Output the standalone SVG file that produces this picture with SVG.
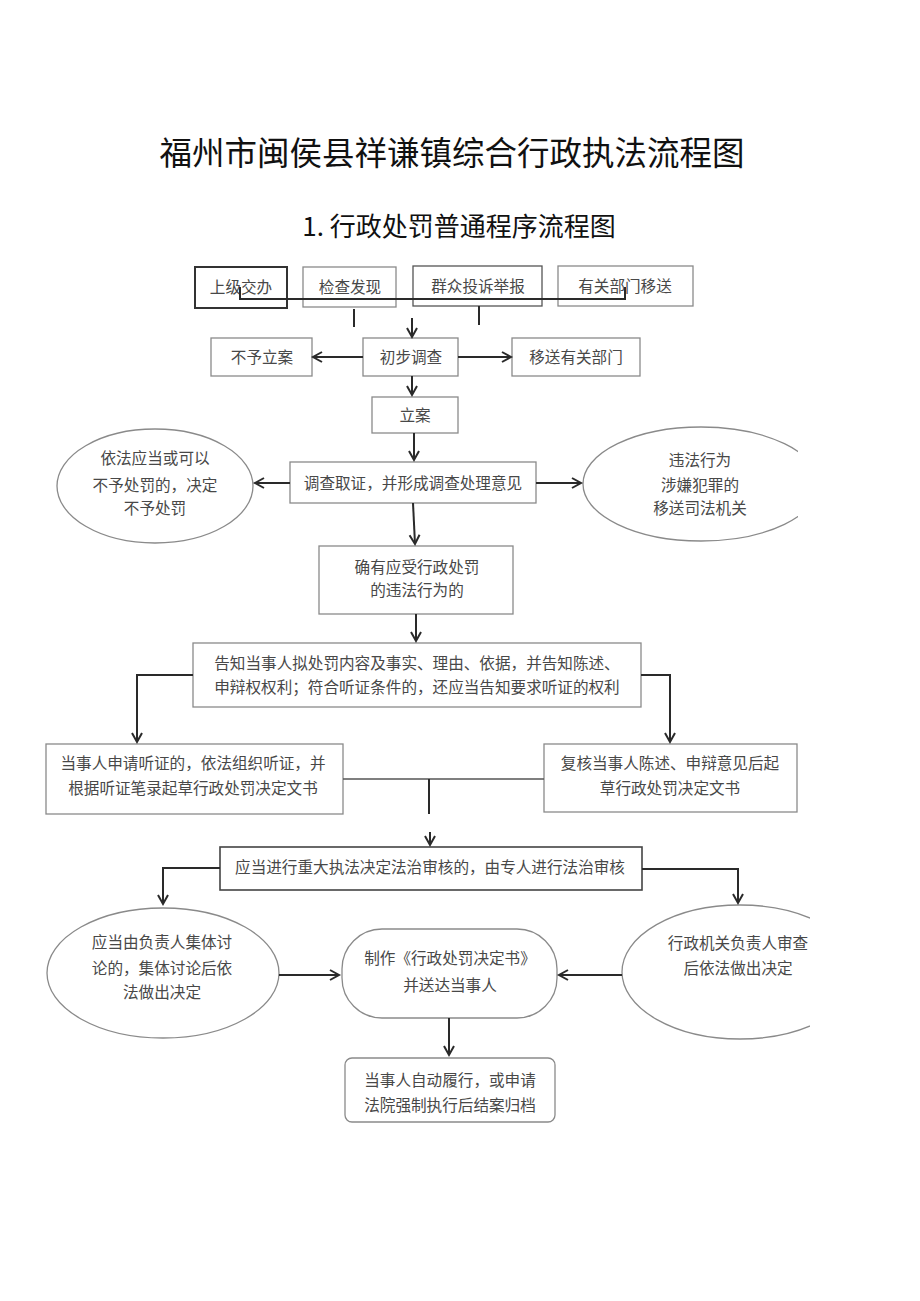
<svg xmlns="http://www.w3.org/2000/svg" width="920" height="1301" viewBox="0 0 920 1301">
<style>
.t{font-family:"Noto Sans CJK SC","Noto Sans",sans-serif;fill:#484848;font-size:15.6px;text-anchor:middle}
.h{font-family:"Noto Sans CJK SC","Liberation Sans",sans-serif;fill:#111;text-anchor:middle}
.b{fill:#fff;stroke:#8a8a8a;stroke-width:1.3}
.c{fill:none;stroke:#2a2a2a;stroke-width:2}
.a{marker-end:url(#ah)}
</style>
<defs>
<marker id="ah" markerUnits="userSpaceOnUse" markerWidth="14" markerHeight="14" refX="10" refY="6" orient="auto">
<path d="M1,1 L10,6 L1,11" fill="none" stroke="#2a2a2a" stroke-width="2"/>
</marker>
<clipPath id="clipR1"><rect x="0" y="0" width="798" height="1301"/></clipPath>
<clipPath id="clipR2"><rect x="0" y="0" width="810" height="1301"/></clipPath>
</defs>
<rect width="920" height="1301" fill="#fff"/>
<text class="h" x="452" y="165" font-size="32.5">福州市闽侯县祥谦镇综合行政执法流程图</text>
<text class="h" x="459" y="236" font-size="26">1. 行政处罚普通程序流程图</text>

<g id="n1"><rect class="b" x="195" y="267" width="92" height="41" style="stroke:#333;stroke-width:2"/><text class="t" x="241" y="293">上级交办</text></g>
<g id="n2"><rect class="b" x="303" y="267" width="93" height="40"/><text class="t" x="350" y="293">检查发现</text></g>
<g id="n3"><rect class="b" x="413" y="266" width="129" height="40" style="stroke:#555"/><text class="t" x="478" y="292">群众投诉举报</text></g>
<g id="n4"><rect class="b" x="558" y="266" width="135" height="40"/><text class="t" x="625" y="292">有关部门移送</text></g>
<g id="n5"><rect class="b" x="211" y="338" width="101" height="38"/><text class="t" x="262" y="363">不予立案</text></g>
<g id="n6"><rect class="b" x="363" y="338" width="95" height="38"/><text class="t" x="411" y="363">初步调查</text></g>
<g id="n7"><rect class="b" x="512" y="338" width="128" height="38"/><text class="t" x="576" y="363">移送有关部门</text></g>
<g id="n8"><rect class="b" x="372" y="397" width="86" height="36"/><text class="t" x="415" y="421">立案</text></g>
<g id="n9"><ellipse class="b" cx="155" cy="486" rx="98" ry="57"/><text class="t" x="155" y="464">依法应当或可以</text><text class="t" x="155" y="491">不予处罚的，决定</text><text class="t" x="155" y="514">不予处罚</text></g>
<g id="n10"><rect class="b" x="290" y="462" width="246" height="41"/><text class="t" x="413" y="489">调查取证，并形成调查处理意见</text></g>
<g id="n11" clip-path="url(#clipR1)"><ellipse class="b" cx="701" cy="484" rx="118" ry="57"/><text class="t" x="700" y="466">违法行为</text><text class="t" x="700" y="491">涉嫌犯罪的</text><text class="t" x="700" y="514">移送司法机关</text></g>
<g id="n12"><rect class="b" x="319" y="546" width="194" height="68"/><text class="t" x="417" y="573">确有应受行政处罚</text><text class="t" x="417" y="596">的违法行为的</text></g>
<g id="n13"><rect class="b" x="193" y="643" width="448" height="64"/><text class="t" x="417" y="669">告知当事人拟处罚内容及事实、理由、依据，并告知陈述、</text><text class="t" x="417" y="693">申辩权权利；符合听证条件的，还应当告知要求听证的权利</text></g>
<g id="n14"><rect class="b" x="46" y="744" width="297" height="70"/><text class="t" x="193" y="769">当事人申请听证的，依法组织听证，并</text><text class="t" x="193" y="794">根据听证笔录起草行政处罚决定文书</text></g>
<g id="n15"><rect class="b" x="544" y="744" width="253" height="68"/><text class="t" x="670" y="769">复核当事人陈述、申辩意见后起</text><text class="t" x="670" y="794">草行政处罚决定文书</text></g>
<g id="n16"><rect class="b" x="220" y="847" width="422" height="43" style="stroke:#444;stroke-width:1.6"/><text class="t" x="430" y="873">应当进行重大执法决定法治审核的，由专人进行法治审核</text></g>
<g id="n17"><ellipse class="b" cx="163" cy="973" rx="116" ry="65"/><text class="t" x="162" y="948">应当由负责人集体讨</text><text class="t" x="162" y="974">论的，集体讨论后依</text><text class="t" x="162" y="998">法做出决定</text></g>
<g id="n18"><rect class="b" x="342" y="929" width="215" height="89" rx="40" ry="40"/><text class="t" x="450" y="964">制作《行政处罚决定书》</text><text class="t" x="450" y="991">并送达当事人</text></g>
<g id="n19" clip-path="url(#clipR2)"><ellipse class="b" cx="740" cy="972" rx="118" ry="67"/><text class="t" x="738" y="949">行政机关负责人审查</text><text class="t" x="738" y="974">后依法做出决定</text></g>
<g id="n20"><rect class="b" x="345" y="1058" width="210" height="64" rx="7" ry="7"/><text class="t" x="450" y="1086">当事人自动履行，或申请</text><text class="t" x="450" y="1111">法院强制执行后结案归档</text></g>

<g id="connectors">
<polyline class="c" points="240,287 240,299 625,299 625,287"/>
<line class="c" x1="354" y1="309" x2="354" y2="327"/>
<line class="c" x1="479" y1="306" x2="479" y2="325"/>
<line class="c a" x1="412" y1="318" x2="412" y2="337"/>
<line class="c a" x1="363" y1="357" x2="313" y2="357"/>
<line class="c a" x1="458" y1="357" x2="511" y2="357"/>
<line class="c a" x1="412" y1="376" x2="412" y2="395"/>
<line class="c a" x1="414" y1="433" x2="414" y2="460"/>
<line class="c a" x1="290" y1="483" x2="255" y2="483"/>
<line class="c a" x1="536" y1="483" x2="581" y2="483"/>
<line class="c a" x1="413" y1="503" x2="415" y2="544"/>
<line class="c a" x1="416" y1="614" x2="416" y2="641"/>
<polyline class="c a" points="193,675 137,675 137,742"/>
<polyline class="c a" points="641,675 670,675 670,742"/>
<line x1="343" y1="779" x2="544" y2="779" stroke="#555" stroke-width="1.3"/>
<line class="c" x1="429" y1="779" x2="429" y2="814"/>
<line class="c a" x1="430" y1="832" x2="430" y2="845"/>
<polyline class="c a" points="220,868 163,868 163,904"/>
<polyline class="c a" points="642,869 738,869 738,903"/>
<line class="c a" x1="279" y1="975" x2="339" y2="975"/>
<line class="c a" x1="622" y1="975" x2="559" y2="975"/>
<line class="c a" x1="449" y1="1018" x2="449" y2="1055"/>
</g>
</svg>
